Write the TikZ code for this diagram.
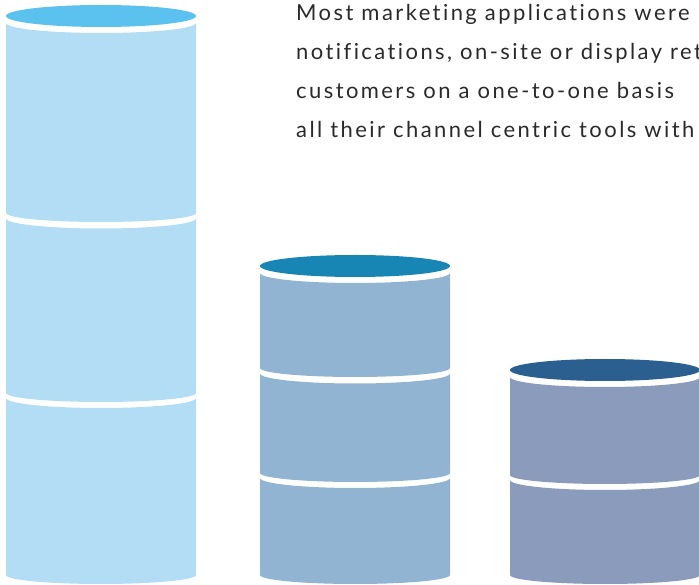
\documentclass[tikz,border=0pt]{standalone}
\usepackage{fontspec}
\setmainfont{Lato}[LetterSpace=11,Ligatures={NoCommon}]
\usetikzlibrary{positioning}

\definecolor{skybody}{HTML}{B3DDF4}
\definecolor{skytop}{HTML}{5BC2EF}
\definecolor{steelbody}{HTML}{92B4D3}
\definecolor{steeltop}{HTML}{1786B5}
\definecolor{slatebody}{HTML}{8A9BBB}
\definecolor{slatetop}{HTML}{2A5F8F}
\definecolor{bodytext}{HTML}{2A2A2A}

% one slice of a stack: colour, left x, top y, bottom y
\newcommand{\slice}[4]{%
  \fill[#1] (#2,#3) arc[start angle=180,end angle=360,x radius=95,y radius=10]
    -- ++(0,#4-#3) arc[start angle=0,end angle=-180,x radius=95,y radius=9] -- cycle;}

\begin{document}
\begin{tikzpicture}[x=1pt,y=1pt,
  lid/.style={x radius=95,y radius=11},
  blurb/.style={anchor=north west,align=left,text=bodytext,
    font=\fontsize{22}{39}\selectfont,inner sep=0pt}]
\useasboundingbox (0,0) rectangle (699,584);

%tall stack
\slice{skybody}{6}{561}{371}
\slice{skybody}{6}{365.5}{191}
\slice{skybody}{6}{186}{9}
\fill[skytop] (101,568) ellipse[lid];

%middle stack
\slice{steelbody}{260}{311}{216}
\slice{steelbody}{260}{210.5}{111}
\slice{steelbody}{260}{106}{9}
\fill[steeltop] (355,318) ellipse[lid];

%short stack
\slice{slatebody}{510}{207}{109}
\slice{slatebody}{510}{104}{9}
\fill[slatetop] (605,214) ellipse[lid];

%text
\node[blurb] (intro) at (296,580) {Most marketing applications were\\
notifications, on-site or display ret\\
customers on a one-to-one basis\\
all their channel centric tools with};

\end{tikzpicture}
\end{document}
